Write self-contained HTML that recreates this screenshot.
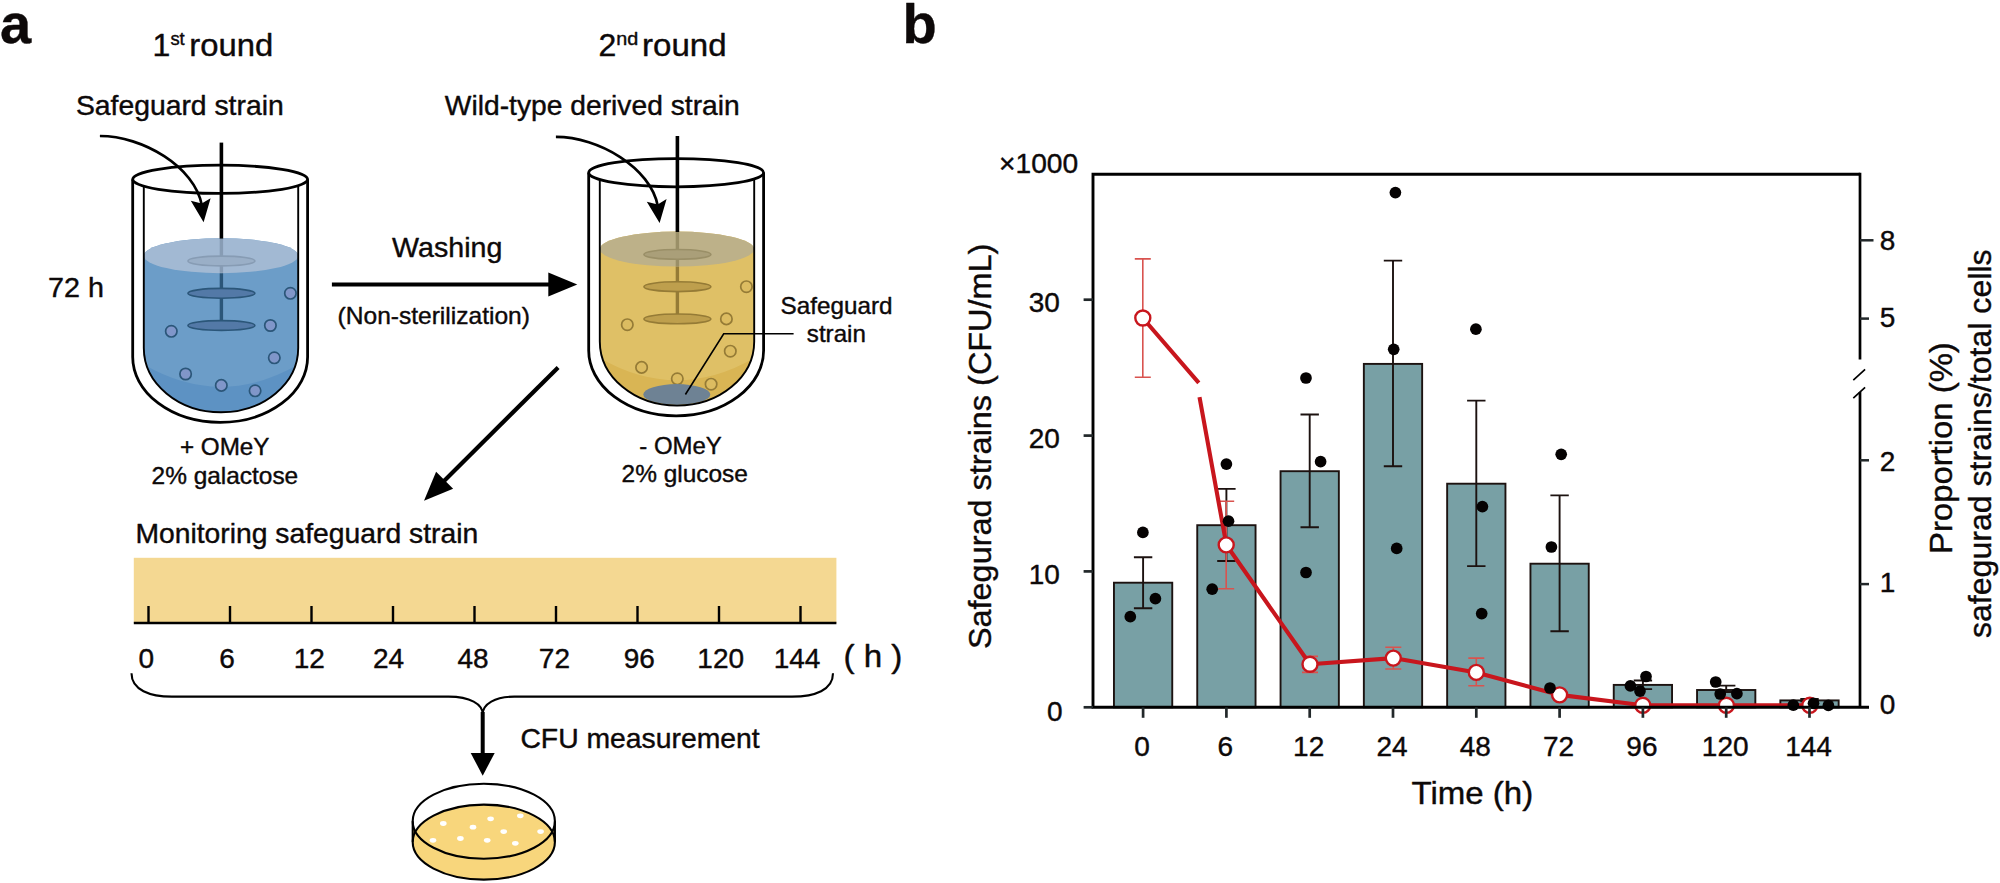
<!DOCTYPE html>
<html lang="en"><head><meta charset="utf-8"><title>Figure</title>
<style>html,body{margin:0;padding:0;background:#fff}body{width:2000px;height:883px;overflow:hidden}svg{display:block}text{font-family:"Liberation Sans", Arial, Helvetica, sans-serif;fill:#0d0909;stroke:#0d0909;stroke-width:0.4px;stroke-linejoin:round}</style></head><body>
<svg width="2000" height="883" viewBox="0 0 2000 883">
<rect width="2000" height="883" fill="#fff"/>
<text x="0" y="43.2" font-size="56" font-weight="bold">a</text>
<text x="902.5" y="42.8" font-size="56" font-weight="bold">b</text>
<g transform="translate(0,0)">
<clipPath id="clipb"><path d="M143.8,255.7 L143.8,348 A77.2,64.2 0 0 0 298.2,348 L298.2,255.7 A77.2,17.5 0 0 0 143.8,255.7 Z"/></clipPath>
<path d="M143.8,255.7 L143.8,348 A77.2,64.2 0 0 0 298.2,348 L298.2,255.7 A77.2,17.5 0 0 0 143.8,255.7 Z" fill="#6c9dc8"/>
<path clip-path="url(#clipb)" d="M143.8,364.5 Q221,409 298.2,364.5 L298.2,420 L143.8,420 Z" fill="#5d92c3"/>
<line x1="221.4" y1="262" x2="221.4" y2="325.5" stroke="#2b5679" stroke-width="3.4"/>
<ellipse cx="221.4" cy="293.3" rx="33.5" ry="4.9" fill="#5379a7" stroke="#2b5679" stroke-width="1.6"/>
<ellipse cx="221.4" cy="325.5" rx="33.5" ry="4.9" fill="#5379a7" stroke="#2b5679" stroke-width="1.6"/>
<circle cx="290.4" cy="293.3" r="5.7" fill="#8096c9" stroke="#2b5679" stroke-width="1.7"/>
<circle cx="270.4" cy="325.5" r="5.7" fill="#8096c9" stroke="#2b5679" stroke-width="1.7"/>
<circle cx="171.3" cy="331.3" r="5.7" fill="#8096c9" stroke="#2b5679" stroke-width="1.7"/>
<circle cx="274.3" cy="357.8" r="5.7" fill="#8096c9" stroke="#2b5679" stroke-width="1.7"/>
<circle cx="185.6" cy="374" r="5.7" fill="#8096c9" stroke="#2b5679" stroke-width="1.7"/>
<circle cx="221.3" cy="385.4" r="5.7" fill="#8096c9" stroke="#2b5679" stroke-width="1.7"/>
<circle cx="255.1" cy="390.8" r="5.7" fill="#8096c9" stroke="#2b5679" stroke-width="1.7"/>
<ellipse cx="221" cy="255.7" rx="77.2" ry="17.5" fill="#a2b9d3"/>
<line x1="221.4" y1="238.5" x2="221.4" y2="272.8" stroke="#879cb4" stroke-width="3.4"/>
<ellipse cx="221.4" cy="261" rx="33.5" ry="4.9" fill="#9aafc7" stroke="#879cb4" stroke-width="1.6"/>
<line x1="221.4" y1="142.6" x2="221.4" y2="238.6" stroke="#000" stroke-width="3.6"/>
<path d="M143.8,186.2 L143.8,348 A77.2,64.2 0 0 0 298.2,348 L298.2,186" fill="none" stroke="#000" stroke-width="1.9"/>
<path d="M132.7,179.4 L132.7,357 A87.45,65.4 0 0 0 307.6,357 L307.6,179.4" fill="none" stroke="#000" stroke-width="2.8"/>
<ellipse cx="220.15" cy="179.3" rx="87.45" ry="14.1" fill="none" stroke="#000" stroke-width="2.8"/>
</g>
<g transform="translate(456,-6.6)">
<clipPath id="clipy"><path d="M143.8,255.7 L143.8,348 A77.2,64.2 0 0 0 298.2,348 L298.2,255.7 A77.2,17.5 0 0 0 143.8,255.7 Z"/></clipPath>
<path d="M143.8,255.7 L143.8,348 A77.2,64.2 0 0 0 298.2,348 L298.2,255.7 A77.2,17.5 0 0 0 143.8,255.7 Z" fill="#dfc066"/>
<path clip-path="url(#clipy)" d="M143.8,364.5 Q221,409 298.2,364.5 L298.2,420 L143.8,420 Z" fill="#d9b554"/>
<line x1="221.4" y1="262" x2="221.4" y2="325.5" stroke="#957b36" stroke-width="3.4"/>
<ellipse cx="221.4" cy="293.3" rx="33.5" ry="4.9" fill="#be9f4d" stroke="#957b36" stroke-width="1.6"/>
<ellipse cx="221.4" cy="325.5" rx="33.5" ry="4.9" fill="#be9f4d" stroke="#957b36" stroke-width="1.6"/>
<circle cx="290.4" cy="293.3" r="5.7" fill="#dcbc61" stroke="#957b36" stroke-width="1.7"/>
<circle cx="270.4" cy="325.5" r="5.7" fill="#dcbc61" stroke="#957b36" stroke-width="1.7"/>
<circle cx="171.3" cy="331.3" r="5.7" fill="#dcbc61" stroke="#957b36" stroke-width="1.7"/>
<circle cx="274.3" cy="357.8" r="5.7" fill="#dcbc61" stroke="#957b36" stroke-width="1.7"/>
<circle cx="185.6" cy="374" r="5.7" fill="#dcbc61" stroke="#957b36" stroke-width="1.7"/>
<circle cx="221.3" cy="385.4" r="5.7" fill="#dcbc61" stroke="#957b36" stroke-width="1.7"/>
<circle cx="255.1" cy="390.8" r="5.7" fill="#dcbc61" stroke="#957b36" stroke-width="1.7"/>
<ellipse clip-path="url(#clipy)" cx="220.8" cy="401.1" rx="33.5" ry="10.4" fill="#6e8294"/>
<ellipse cx="221" cy="255.7" rx="77.2" ry="17.5" fill="#bdb189"/>
<line x1="221.4" y1="238.5" x2="221.4" y2="272.8" stroke="#9a8f67" stroke-width="3.4"/>
<ellipse cx="221.4" cy="261" rx="33.5" ry="4.9" fill="#aa9f79" stroke="#9a8f67" stroke-width="1.6"/>
<line x1="221.4" y1="142.6" x2="221.4" y2="238.6" stroke="#000" stroke-width="3.6"/>
<path d="M143.8,186.2 L143.8,348 A77.2,64.2 0 0 0 298.2,348 L298.2,186" fill="none" stroke="#000" stroke-width="1.9"/>
<path d="M132.7,179.4 L132.7,357 A87.45,65.4 0 0 0 307.6,357 L307.6,179.4" fill="none" stroke="#000" stroke-width="2.8"/>
<ellipse cx="220.15" cy="179.3" rx="87.45" ry="14.1" fill="none" stroke="#000" stroke-width="2.8"/>
</g>
<g transform="translate(0,0)">
<path d="M99.9,136 C142.4,136 194.8,166.7 201.9,205.5" fill="none" stroke="#000" stroke-width="2.7"/>
<path d="M203.6,222.2 L190.8,200.8 L201.7,203.6 L210.6,198.2 Z" fill="#000"/>
</g>
<g transform="translate(456,0.9)">
<path d="M99.9,136 C142.4,136 194.8,166.7 201.9,205.5" fill="none" stroke="#000" stroke-width="2.7"/>
<path d="M203.6,222.2 L190.8,200.8 L201.7,203.6 L210.6,198.2 Z" fill="#000"/>
</g>
<text x="152.6" y="56.2" font-size="32">1</text>
<text x="170.4" y="45.2" font-size="19" textLength="14.3" lengthAdjust="spacingAndGlyphs">st</text>
<text x="189.35" y="56.2" font-size="32" textLength="83.9" lengthAdjust="spacingAndGlyphs">round</text>
<text x="598.5" y="56.1" font-size="32">2</text>
<text x="616.3" y="45.1" font-size="19" textLength="22" lengthAdjust="spacingAndGlyphs">nd</text>
<text x="642.0" y="56.1" font-size="32" textLength="84.5" lengthAdjust="spacingAndGlyphs">round</text>
<text x="75.9" y="114.6" font-size="28" textLength="207.8" lengthAdjust="spacingAndGlyphs">Safeguard strain</text>
<text x="444.85" y="114.7" font-size="28" textLength="294.9" lengthAdjust="spacingAndGlyphs">Wild-type derived strain</text>
<text x="48.1" y="296.9" font-size="28" textLength="55.9" lengthAdjust="spacingAndGlyphs">72 h</text>
<text x="392.1" y="256.9" font-size="28" textLength="110.2" lengthAdjust="spacingAndGlyphs">Washing</text>
<text x="337.6" y="324.3" font-size="24" textLength="192.3" lengthAdjust="spacingAndGlyphs">(Non-sterilization)</text>
<text x="179.9" y="454.5" font-size="24" textLength="89.6" lengthAdjust="spacingAndGlyphs">+ OMeY</text>
<text x="151.6" y="483.5" font-size="24" textLength="146.6" lengthAdjust="spacingAndGlyphs">2% galactose</text>
<text x="639.3" y="454.2" font-size="24" textLength="82.5" lengthAdjust="spacingAndGlyphs">- OMeY</text>
<text x="621.6" y="482.4" font-size="24" textLength="126.2" lengthAdjust="spacingAndGlyphs">2% glucose</text>
<text x="780.6" y="313.8" font-size="24" textLength="111.9" lengthAdjust="spacingAndGlyphs">Safeguard</text>
<text x="806.85" y="342.4" font-size="24" textLength="59" lengthAdjust="spacingAndGlyphs">strain</text>
<line x1="331.9" y1="284.5" x2="552" y2="284.5" stroke="#000" stroke-width="4.2"/>
<path d="M577.3,284.5 L548.3,272.5 L548.3,296.5 Z" fill="#000"/>
<line x1="558.1" y1="367.4" x2="441" y2="484" stroke="#000" stroke-width="4.2"/>
<path d="M424,500.8 L436.1,471.8 L453.1,488.8 Z" fill="#000"/>
<path d="M685.4,394.5 L723.7,333.8 L793.6,333.8" fill="none" stroke="#000" stroke-width="1.6"/>
<text x="135.4" y="543.2" font-size="28" textLength="342.9" lengthAdjust="spacingAndGlyphs">Monitoring safeguard strain</text>
<rect x="133.8" y="557.8" width="702.6" height="65.2" fill="#f4d892"/>
<line x1="133.8" y1="623" x2="836.4" y2="623" stroke="#000" stroke-width="2.4"/>
<line x1="148.5" y1="606" x2="148.5" y2="623" stroke="#000" stroke-width="2.4"/>
<line x1="230.0" y1="606" x2="230.0" y2="623" stroke="#000" stroke-width="2.4"/>
<line x1="311.5" y1="606" x2="311.5" y2="623" stroke="#000" stroke-width="2.4"/>
<line x1="393.0" y1="606" x2="393.0" y2="623" stroke="#000" stroke-width="2.4"/>
<line x1="474.5" y1="606" x2="474.5" y2="623" stroke="#000" stroke-width="2.4"/>
<line x1="556.0" y1="606" x2="556.0" y2="623" stroke="#000" stroke-width="2.4"/>
<line x1="637.5" y1="606" x2="637.5" y2="623" stroke="#000" stroke-width="2.4"/>
<line x1="719.0" y1="606" x2="719.0" y2="623" stroke="#000" stroke-width="2.4"/>
<line x1="800.5" y1="606" x2="800.5" y2="623" stroke="#000" stroke-width="2.4"/>
<text x="146.2" y="668.1" font-size="28" text-anchor="middle">0</text>
<text x="227" y="668.1" font-size="28" text-anchor="middle">6</text>
<text x="309.3" y="668.1" font-size="28" text-anchor="middle">12</text>
<text x="388.6" y="668.1" font-size="28" text-anchor="middle">24</text>
<text x="473" y="668.1" font-size="28" text-anchor="middle">48</text>
<text x="554.4" y="668.1" font-size="28" text-anchor="middle">72</text>
<text x="639.3" y="668.1" font-size="28" text-anchor="middle">96</text>
<text x="720.7" y="668.1" font-size="28" text-anchor="middle">120</text>
<text x="797" y="668.1" font-size="28" text-anchor="middle">144</text>
<text x="843.4" y="666.5" font-size="32" textLength="59" lengthAdjust="spacingAndGlyphs">( h )</text>
<path d="M131.5,673.3 C131.5,690 150,696.6 172,696.6 L448.6,696.6 C470,696.6 482.7,704 482.7,714.3 C482.7,704 495,696.6 514.3,696.6 L792,696.6 C815,696.6 833,690 833,673.3" fill="none" stroke="#000" stroke-width="2.1"/>
<line x1="482.7" y1="712" x2="482.7" y2="756" stroke="#000" stroke-width="4"/>
<path d="M482.7,775.7 L470.7,753 L494.7,753 Z" fill="#000"/>
<text x="520.4" y="747.9" font-size="28" textLength="239.2" lengthAdjust="spacingAndGlyphs">CFU measurement</text>
<rect x="412.7" y="821.2" width="142.2" height="20.6" fill="#f8d67c"/>
<ellipse cx="483.8" cy="821.2" rx="71.1" ry="37.5" fill="#fff"/>
<ellipse cx="483.8" cy="842.1" rx="71.1" ry="37.5" fill="#f8d67c" stroke="#000" stroke-width="2.1"/>
<ellipse cx="483.8" cy="821.2" rx="71.1" ry="37.5" fill="none" stroke="#000" stroke-width="2.1"/>
<line x1="412.7" y1="821.2" x2="412.7" y2="841.8" stroke="#000" stroke-width="2.1"/>
<line x1="554.9" y1="821.2" x2="554.9" y2="841.8" stroke="#000" stroke-width="2.1"/>
<ellipse cx="443.3" cy="823.5" rx="3.3" ry="2.4" fill="#fff"/>
<ellipse cx="473" cy="827.2" rx="3.3" ry="2.4" fill="#fff"/>
<ellipse cx="490.6" cy="818.8" rx="3.3" ry="2.4" fill="#fff"/>
<ellipse cx="520.3" cy="815.8" rx="3.3" ry="2.4" fill="#fff"/>
<ellipse cx="503.7" cy="831.6" rx="3.3" ry="2.4" fill="#fff"/>
<ellipse cx="540.6" cy="831.6" rx="3.3" ry="2.4" fill="#fff"/>
<ellipse cx="433" cy="840.3" rx="3.3" ry="2.4" fill="#fff"/>
<ellipse cx="460.4" cy="838.5" rx="3.3" ry="2.4" fill="#fff"/>
<ellipse cx="487.2" cy="840.3" rx="3.3" ry="2.4" fill="#fff"/>
<ellipse cx="515.3" cy="843.3" rx="3.3" ry="2.4" fill="#fff"/>
<rect x="1113.95" y="582.7" width="58.3" height="124.6" fill="#78a0a5" stroke="#1c1210" stroke-width="1.9"/>
<rect x="1197.25" y="525.2" width="58.3" height="182.1" fill="#78a0a5" stroke="#1c1210" stroke-width="1.9"/>
<rect x="1280.55" y="471.2" width="58.3" height="236.1" fill="#78a0a5" stroke="#1c1210" stroke-width="1.9"/>
<rect x="1363.85" y="363.9" width="58.3" height="343.4" fill="#78a0a5" stroke="#1c1210" stroke-width="1.9"/>
<rect x="1447.15" y="483.7" width="58.3" height="223.6" fill="#78a0a5" stroke="#1c1210" stroke-width="1.9"/>
<rect x="1530.45" y="563.7" width="58.3" height="143.6" fill="#78a0a5" stroke="#1c1210" stroke-width="1.9"/>
<rect x="1613.75" y="684.9" width="58.3" height="22.4" fill="#78a0a5" stroke="#1c1210" stroke-width="1.9"/>
<rect x="1697.05" y="690" width="58.3" height="17.3" fill="#78a0a5" stroke="#1c1210" stroke-width="1.9"/>
<rect x="1780.35" y="700.4" width="58.3" height="6.9" fill="#78a0a5" stroke="#1c1210" stroke-width="1.9"/>
<path d="M1133.9,557.2 H1152.3 M1143.1,557.2 V608.2 M1133.9,608.2 H1152.3" fill="none" stroke="#1c1210" stroke-width="1.9"/>
<path d="M1217.2,488.9 H1235.6 M1226.4,488.9 V561 M1217.2,561 H1235.6" fill="none" stroke="#1c1210" stroke-width="1.9"/>
<path d="M1300.5,414.5 H1318.9 M1309.7,414.5 V527.3 M1300.5,527.3 H1318.9" fill="none" stroke="#1c1210" stroke-width="1.9"/>
<path d="M1383.8,260.6 H1402.2 M1393.0,260.6 V466.2 M1383.8,466.2 H1402.2" fill="none" stroke="#1c1210" stroke-width="1.9"/>
<path d="M1467.1,400.6 H1485.5 M1476.3,400.6 V566.1 M1467.1,566.1 H1485.5" fill="none" stroke="#1c1210" stroke-width="1.9"/>
<path d="M1550.4,495.4 H1568.8 M1559.6,495.4 V631.3 M1550.4,631.3 H1568.8" fill="none" stroke="#1c1210" stroke-width="1.9"/>
<path d="M1633.7,680.5 H1652.1 M1642.9,680.5 V689.1 M1633.7,689.1 H1652.1" fill="none" stroke="#1c1210" stroke-width="1.9"/>
<path d="M1717.0,685.6 H1735.4 M1726.2,685.6 V692 M1717.0,692 H1735.4" fill="none" stroke="#1c1210" stroke-width="1.9"/>
<path d="M1800.3,699 H1818.7 M1809.5,699 V701.4 M1800.3,701.4 H1818.7" fill="none" stroke="#1c1210" stroke-width="1.9"/>
<path d="M1134.8,258.9 H1150.8 M1142.8,258.9 V377.2 M1134.8,377.2 H1150.8" fill="none" stroke="#d9534f" stroke-width="1.6"/>
<path d="M1218.2,501.2 H1234.2 M1226.2,501.2 V588.8 M1218.2,588.8 H1234.2" fill="none" stroke="#d9534f" stroke-width="1.6"/>
<path d="M1302.0,656.4 H1318.0 M1310.0,656.4 V672.4 M1302.0,672.4 H1318.0" fill="none" stroke="#d9534f" stroke-width="1.6"/>
<path d="M1385.3,647.3 H1401.3 M1393.3,647.3 V669 M1385.3,669 H1401.3" fill="none" stroke="#d9534f" stroke-width="1.6"/>
<path d="M1468.3,658.1 H1484.3 M1476.3,658.1 V685.7 M1468.3,685.7 H1484.3" fill="none" stroke="#d9534f" stroke-width="1.6"/>
<path d="M1142.8,318 L1198.8,382.9 M1199.5,397.2 L1226.4,545 L1310,664.3 L1393.3,658.1 L1476.3,672.4 L1559.6,694.9 L1642.8,705.3 L1726.4,705.3 L1809.8,705.3" fill="none" stroke="#c8161d" stroke-width="4.1" stroke-linejoin="round"/>
<circle cx="1142.8" cy="318" r="7.5" fill="#fff" stroke="#c8161d" stroke-width="2.4"/>
<circle cx="1226.2" cy="544.9" r="7.5" fill="#fff" stroke="#c8161d" stroke-width="2.4"/>
<circle cx="1310" cy="664.3" r="7.5" fill="#fff" stroke="#c8161d" stroke-width="2.4"/>
<circle cx="1393.3" cy="658.1" r="7.5" fill="#fff" stroke="#c8161d" stroke-width="2.4"/>
<circle cx="1476.3" cy="672.4" r="7.5" fill="#fff" stroke="#c8161d" stroke-width="2.4"/>
<circle cx="1559.6" cy="694.9" r="7.5" fill="#fff" stroke="#c8161d" stroke-width="2.4"/>
<circle cx="1642.8" cy="705.3" r="7.5" fill="#fff" stroke="#c8161d" stroke-width="2.4"/>
<circle cx="1726.4" cy="705.3" r="7.5" fill="#fff" stroke="#c8161d" stroke-width="2.4"/>
<circle cx="1809.8" cy="705.3" r="7.5" fill="#fff" stroke="#c8161d" stroke-width="2.4"/>
<circle cx="1142.9" cy="532.4" r="5.85" fill="#050202"/>
<circle cx="1155.4" cy="598.7" r="5.85" fill="#050202"/>
<circle cx="1130.3" cy="616.7" r="5.85" fill="#050202"/>
<circle cx="1226.4" cy="464.1" r="5.85" fill="#050202"/>
<circle cx="1228.5" cy="521.2" r="5.85" fill="#050202"/>
<circle cx="1212.2" cy="589.2" r="5.85" fill="#050202"/>
<circle cx="1306" cy="378" r="5.85" fill="#050202"/>
<circle cx="1320.6" cy="461.7" r="5.85" fill="#050202"/>
<circle cx="1306" cy="572.5" r="5.85" fill="#050202"/>
<circle cx="1395.4" cy="192.6" r="5.85" fill="#050202"/>
<circle cx="1393.7" cy="349.3" r="5.85" fill="#050202"/>
<circle cx="1396.7" cy="548.4" r="5.85" fill="#050202"/>
<circle cx="1475.9" cy="329.2" r="5.85" fill="#050202"/>
<circle cx="1482.4" cy="506.6" r="5.85" fill="#050202"/>
<circle cx="1481.7" cy="613.6" r="5.85" fill="#050202"/>
<circle cx="1561.2" cy="454.3" r="5.85" fill="#050202"/>
<circle cx="1551.4" cy="547" r="5.85" fill="#050202"/>
<circle cx="1550" cy="688" r="5.85" fill="#050202"/>
<circle cx="1646" cy="676.5" r="5.85" fill="#050202"/>
<circle cx="1630.4" cy="685.9" r="5.85" fill="#050202"/>
<circle cx="1640" cy="691.1" r="5.85" fill="#050202"/>
<circle cx="1715.7" cy="682" r="5.85" fill="#050202"/>
<circle cx="1720.2" cy="694" r="5.85" fill="#050202"/>
<circle cx="1736.9" cy="693.7" r="5.85" fill="#050202"/>
<circle cx="1793.3" cy="705.1" r="5.85" fill="#050202"/>
<circle cx="1813.5" cy="703.3" r="5.85" fill="#050202"/>
<circle cx="1828.4" cy="705.4" r="5.85" fill="#050202"/>
<path d="M1860.0,174.2 H1093.0 V707.3 H1869" fill="none" stroke="#000" stroke-width="2.9"/>
<path d="M1860.0,172.79999999999998 V359.6 M1860.0,392 V707.3" fill="none" stroke="#000" stroke-width="2.7"/>
<path d="M1853.3,380.2 L1865.1,369.3 M1853.3,398.1 L1865.1,387.4" fill="none" stroke="#000" stroke-width="1.7"/>
<line x1="1083.6" y1="707.3" x2="1093.0" y2="707.3" stroke="#22282a" stroke-width="2.7"/>
<text x="1062.7" y="721.0" font-size="28" text-anchor="end">0</text>
<line x1="1083.6" y1="571.4" x2="1093.0" y2="571.4" stroke="#22282a" stroke-width="2.7"/>
<text x="1059.9" y="584.3" font-size="28" text-anchor="end">10</text>
<line x1="1083.6" y1="435.6" x2="1093.0" y2="435.6" stroke="#22282a" stroke-width="2.7"/>
<text x="1059.9" y="448.0" font-size="28" text-anchor="end">20</text>
<line x1="1083.6" y1="299.7" x2="1093.0" y2="299.7" stroke="#22282a" stroke-width="2.7"/>
<text x="1059.9" y="311.9" font-size="28" text-anchor="end">30</text>
<line x1="1143.1" y1="707.3" x2="1143.1" y2="717.8" stroke="#22282a" stroke-width="2.7"/>
<text x="1142.1" y="755.7" font-size="28" text-anchor="middle">0</text>
<line x1="1226.4" y1="707.3" x2="1226.4" y2="717.8" stroke="#22282a" stroke-width="2.7"/>
<text x="1225.4" y="755.7" font-size="28" text-anchor="middle">6</text>
<line x1="1309.7" y1="707.3" x2="1309.7" y2="717.8" stroke="#22282a" stroke-width="2.7"/>
<text x="1308.7" y="755.7" font-size="28" text-anchor="middle">12</text>
<line x1="1393.0" y1="707.3" x2="1393.0" y2="717.8" stroke="#22282a" stroke-width="2.7"/>
<text x="1392.0" y="755.7" font-size="28" text-anchor="middle">24</text>
<line x1="1476.3" y1="707.3" x2="1476.3" y2="717.8" stroke="#22282a" stroke-width="2.7"/>
<text x="1475.3" y="755.7" font-size="28" text-anchor="middle">48</text>
<line x1="1559.6" y1="707.3" x2="1559.6" y2="717.8" stroke="#22282a" stroke-width="2.7"/>
<text x="1558.6" y="755.7" font-size="28" text-anchor="middle">72</text>
<line x1="1642.9" y1="707.3" x2="1642.9" y2="717.8" stroke="#22282a" stroke-width="2.7"/>
<text x="1641.9" y="755.7" font-size="28" text-anchor="middle">96</text>
<line x1="1726.2" y1="707.3" x2="1726.2" y2="717.8" stroke="#22282a" stroke-width="2.7"/>
<text x="1725.2" y="755.7" font-size="28" text-anchor="middle">120</text>
<line x1="1809.5" y1="707.3" x2="1809.5" y2="717.8" stroke="#22282a" stroke-width="2.7"/>
<text x="1808.5" y="755.7" font-size="28" text-anchor="middle">144</text>
<line x1="1860.0" y1="240.3" x2="1873.5" y2="240.3" stroke="#22282a" stroke-width="2.5"/>
<line x1="1860.0" y1="318.6" x2="1869" y2="318.6" stroke="#22282a" stroke-width="2.5"/>
<line x1="1860.0" y1="460.3" x2="1869" y2="460.3" stroke="#22282a" stroke-width="2.5"/>
<line x1="1860.0" y1="584.1" x2="1869" y2="584.1" stroke="#22282a" stroke-width="2.5"/>
<text x="1879.7" y="249.8" font-size="28">8</text>
<text x="1879.7" y="326.8" font-size="28">5</text>
<text x="1879.7" y="470.7" font-size="28">2</text>
<text x="1879.7" y="591.9" font-size="28">1</text>
<text x="1879.7" y="714.2" font-size="28">0</text>
<text x="999" y="173" font-size="28" textLength="79.2" lengthAdjust="spacingAndGlyphs">×1000</text>
<text x="1411.5" y="804.2" font-size="32" textLength="121.7" lengthAdjust="spacingAndGlyphs">Time (h)</text>
<text transform="translate(990.6,649.1) rotate(-90)" font-size="32" textLength="405.5" lengthAdjust="spacingAndGlyphs">Safegurad strains (CFU/mL)</text>
<text transform="translate(1951.5,554) rotate(-90)" font-size="32" textLength="211.8" lengthAdjust="spacingAndGlyphs">Proportion (%)</text>
<text transform="translate(1991.2,638) rotate(-90)" font-size="32" textLength="388.5" lengthAdjust="spacingAndGlyphs">safegurad strains/total cells</text>
</svg></body></html>
